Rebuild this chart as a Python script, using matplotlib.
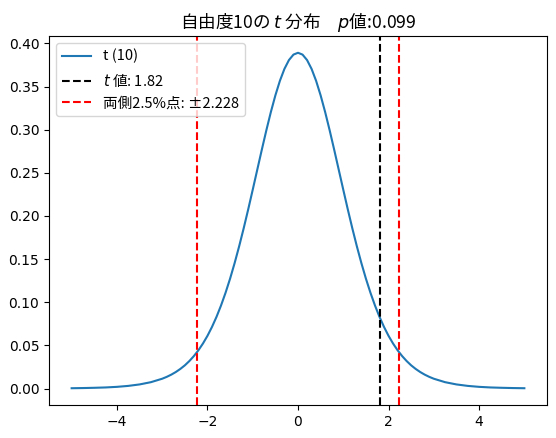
import matplotlib
matplotlib.use("Agg")
import matplotlib.pyplot as plt

# t(10) density values
x_vals = [-5.0, -4.75, -4.5, -4.25, -4.0, -3.75, -3.5, -3.25,
          -3.0, -2.9, -2.8, -2.7, -2.6, -2.5, -2.4, -2.3, -2.2, -2.1,
          -2.0, -1.9, -1.8, -1.7, -1.6, -1.5, -1.4, -1.3, -1.2, -1.1,
          -1.0, -0.9, -0.8, -0.7, -0.6, -0.5, -0.4, -0.3, -0.2, -0.1,
          0.0,
          0.1, 0.2, 0.3, 0.4, 0.5, 0.6, 0.7, 0.8, 0.9, 1.0,
          1.1, 1.2, 1.3, 1.4, 1.5, 1.6, 1.7, 1.8, 1.9, 2.0,
          2.1, 2.2, 2.3, 2.4, 2.5, 2.6, 2.7, 2.8, 2.9, 3.0,
          3.25, 3.5, 3.75, 4.0, 4.25, 4.5, 4.75, 5.0]
density = [0.0004, 0.0006, 0.0009, 0.0013, 0.0020, 0.0031, 0.0048, 0.0074,
           0.0114, 0.01356, 0.01612, 0.01915, 0.02273, 0.0269, 0.03188, 0.03766, 0.04438, 0.05217,
           0.0611, 0.07142, 0.08311, 0.09631, 0.11108, 0.1274, 0.14539, 0.16485, 0.18567, 0.20762,
           0.2304, 0.25353, 0.27662, 0.29909, 0.32033, 0.3397, 0.35658, 0.37040, 0.38066, 0.38698,
           0.3891,
           0.38698, 0.38066, 0.37040, 0.35658, 0.3397, 0.32033, 0.29909, 0.27662, 0.25353, 0.2304,
           0.20762, 0.18567, 0.16485, 0.14539, 0.1274, 0.11108, 0.09631, 0.08311, 0.07142, 0.0611,
           0.05217, 0.04438, 0.03766, 0.03188, 0.0269, 0.02273, 0.01915, 0.01612, 0.01356, 0.0114,
           0.0074, 0.0048, 0.0031, 0.0020, 0.0013, 0.0009, 0.0006, 0.0004]
t_value = 1.812
crit_value = 2.228
p_value = 0.099

jp = ["Noto Sans CJK JP", "DejaVu Sans"]

fig = plt.figure(figsize=(5.56, 4.38), dpi=100)
ax = fig.add_axes([49/556, 33/438, 498/556, 369/438])
ax.plot(x_vals, density, color="#1f77b4", label="t (10)")
ax.axvline(t_value, color="black", linestyle="--", label="$t$ 値: 1.82")
ax.axvline(-crit_value, color="red", linestyle="--", label="両側2.5%点: ±2.228")
ax.axvline(crit_value, color="red", linestyle="--")
ax.set_title("自由度10の $t$ 分布　$p$値:%.3f" % p_value, fontfamily=jp, fontsize=12.7)
ax.legend(loc="upper left", prop={"family": jp, "size": 10.5})
fig.savefig("out.png", dpi=100)
